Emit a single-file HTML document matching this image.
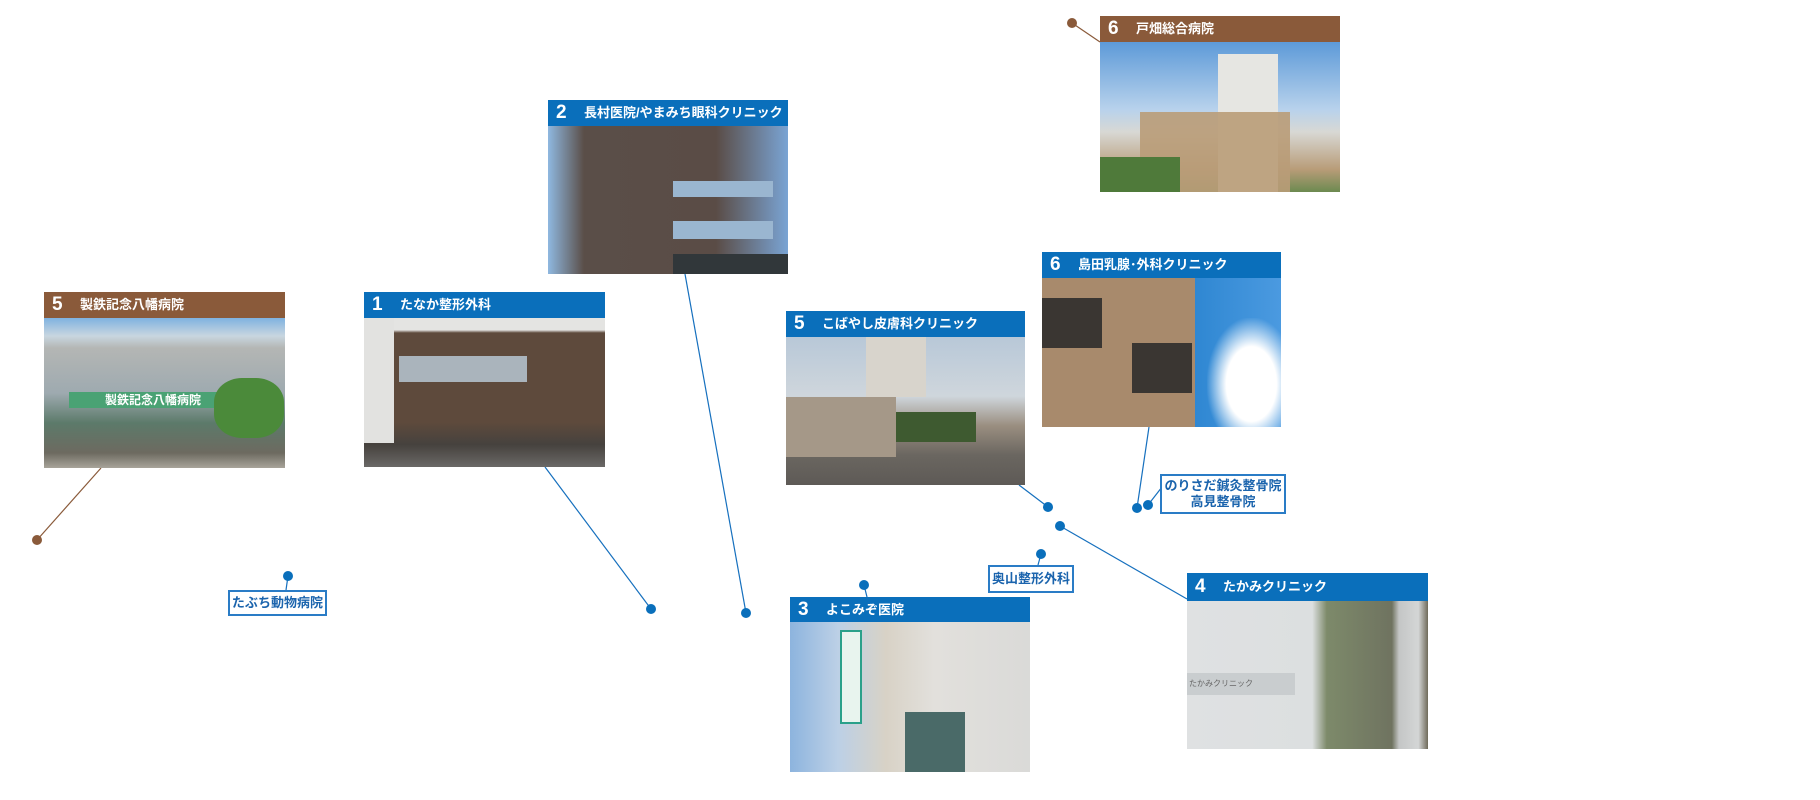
<!DOCTYPE html>
<html><head><meta charset="utf-8"><style>
body{margin:0;width:1820px;height:800px;background:#fff;position:relative;overflow:hidden;font-family:"Liberation Sans","Noto Sans CJK JP",sans-serif}
.card{position:absolute}
.hd{height:26px;color:#fff;font-weight:bold;font-size:13px;line-height:26px;white-space:nowrap;overflow:hidden}
.hd b{font-size:19px;display:inline-block;width:20px;margin-left:8px;margin-right:8px;vertical-align:top}
.blue{background:#0a6fbb}.brown{background:#8a5a3a}
.img{position:absolute;left:0;right:0;bottom:0}
.lbl{position:absolute;border:2px solid #2a7cc6;background:#fff;color:#1b64ad;font-weight:bold;font-size:13px;text-align:center;line-height:16px;box-sizing:border-box}
svg{position:absolute;left:0;top:0}
</style></head><body>
<svg width="1820" height="800">
<g stroke-width="1.2">
<line x1="1072" y1="23" x2="1100" y2="42" stroke="#8a5a3a"/>
<line x1="37" y1="540" x2="101" y2="468" stroke="#8a5a3a"/>
<line x1="685" y1="274" x2="746" y2="613" stroke="#1670be"/>
<line x1="1149" y1="427" x2="1137" y2="508" stroke="#1670be"/>
<line x1="1148" y1="505" x2="1162" y2="487" stroke="#1670be"/>
<line x1="1019" y1="485" x2="1048" y2="507" stroke="#1670be"/>
<line x1="1060" y1="526" x2="1187" y2="599" stroke="#1670be"/>
<line x1="1041" y1="554" x2="1038" y2="565" stroke="#1670be"/>
<line x1="864" y1="585" x2="867" y2="597" stroke="#1670be"/>
<line x1="545" y1="467" x2="651" y2="609" stroke="#1670be"/>
<line x1="288" y1="576" x2="286" y2="590" stroke="#1670be"/>
</g>
<g fill="#8a5a3a"><circle cx="1072" cy="23" r="5"/><circle cx="37" cy="540" r="5"/></g>
<g fill="#0a6fbb">
<circle cx="746" cy="613" r="5"/><circle cx="1137" cy="508" r="5"/><circle cx="1148" cy="505" r="5"/>
<circle cx="1048" cy="507" r="5"/><circle cx="1060" cy="526" r="5"/><circle cx="1041" cy="554" r="5"/>
<circle cx="864" cy="585" r="5"/><circle cx="651" cy="609" r="5"/><circle cx="288" cy="576" r="5"/>
</g>
</svg>

<!-- 戸畑 -->
<div class="card" style="left:1100px;top:16px;width:240px;height:176px">
<div class="hd brown"><b>6</b>戸畑総合病院</div>
<div class="img" style="top:26px;background:linear-gradient(180deg,#5d9ad8 0%,#b8d2ec 45%,#d8d8d4 60%,#b89c78 85%,#6c8a50 100%)">
<div style="position:absolute;left:118px;top:12px;width:60px;height:138px;background:#e6e6e2"></div>
<div style="position:absolute;left:40px;top:70px;width:150px;height:80px;background:#b99c78;opacity:.9"></div>
<div style="position:absolute;left:0;top:115px;width:80px;height:35px;background:#4f7a3a"></div>
</div></div>

<!-- 長村 -->
<div class="card" style="left:548px;top:100px;width:240px;height:174px">
<div class="hd blue"><b>2</b>長村医院/やまみち眼科クリニック</div>
<div class="img" style="top:26px;background:linear-gradient(90deg,#8fb8e0 0%,#5a4e48 15%,#5a4c46 70%,#7aa4d4 100%)">
<div style="position:absolute;left:125px;top:55px;width:100px;height:16px;background:#9ab6d0"></div>
<div style="position:absolute;left:125px;top:95px;width:100px;height:18px;background:#9ab6d0"></div>
<div style="position:absolute;left:125px;top:128px;width:115px;height:20px;background:#31373a"></div>
</div></div>

<!-- 島田 -->
<div class="card" style="left:1042px;top:252px;width:239px;height:175px">
<div class="hd blue"><b>6</b>島田乳腺･外科クリニック</div>
<div class="img" style="top:26px;background:linear-gradient(90deg,#a88a6c 0%,#a88a6c 64%,#2f87d2 64%,#4b9ae0 100%)">
<div style="position:absolute;left:165px;top:40px;width:74px;height:110px;background:radial-gradient(ellipse at 60% 60%,#fff 40%,rgba(255,255,255,0) 72%)"></div>
<div style="position:absolute;left:90px;top:65px;width:60px;height:50px;background:#3a3632"></div>
<div style="position:absolute;left:0;top:20px;width:60px;height:50px;background:#3a3632"></div>
</div></div>

<div class="lbl" style="left:1160px;top:474px;width:126px;height:40px;padding-top:2px">のりさだ鍼灸整骨院<br>高見整骨院</div>

<!-- こばやし -->
<div class="card" style="left:786px;top:311px;width:239px;height:174px">
<div class="hd blue"><b>5</b>こばやし皮膚科クリニック</div>
<div class="img" style="top:26px;background:linear-gradient(180deg,#b8c8d8 0%,#cfd6dc 40%,#9a8e80 60%,#6a6660 80%,#5e5a56 100%)">
<div style="position:absolute;left:0;top:60px;width:110px;height:60px;background:#a59888"></div>
<div style="position:absolute;left:80px;top:0;width:60px;height:60px;background:#d8d4cc"></div>
<div style="position:absolute;left:110px;top:75px;width:80px;height:30px;background:#3e5a30"></div>
</div></div>

<div class="lbl" style="left:988px;top:565px;width:86px;height:28px;line-height:24px">奥山整形外科</div>

<!-- たかみ -->
<div class="card" style="left:1187px;top:573px;width:241px;height:176px">
<div class="hd blue" style="height:28px;line-height:28px"><b>4</b>たかみクリニック</div>
<div class="img" style="top:28px;background:linear-gradient(90deg,#dfe1e2 0%,#dcdfe0 52%,#7d8a6a 58%,#6f7360 85%,#c4c6c6 88%,#d4d6d6 96%,#6f6a5a 100%)">
<div style="position:absolute;left:0;top:72px;width:108px;height:22px;background:#c9cdcf"></div>
<div style="position:absolute;left:2px;top:74px;font-size:8px;color:#666;line-height:18px">たかみクリニック</div>
</div></div>

<!-- 製鉄 -->
<div class="card" style="left:44px;top:292px;width:241px;height:176px">
<div class="hd brown"><b>5</b>製鉄記念八幡病院</div>
<div class="img" style="top:26px;background:linear-gradient(180deg,#7fb2e0 0%,#c8d6e0 12%,#b4b6b4 20%,#9eaab0 50%,#5c7a6a 70%,#6d6a60 90%,#a8a49a 100%)">
<div style="position:absolute;left:25px;top:74px;width:168px;height:16px;background:#4aa274;color:#fff;font-size:12px;font-weight:bold;text-align:center;line-height:16px">製鉄記念八幡病院</div>
<div style="position:absolute;left:170px;top:60px;width:70px;height:60px;background:#4b8a3a;border-radius:40%"></div>
</div></div>

<!-- たなか -->
<div class="card" style="left:364px;top:292px;width:241px;height:175px">
<div class="hd blue"><b>1</b>たなか整形外科</div>
<div class="img" style="top:26px;background:linear-gradient(180deg,#e4e4e2 0%,#e4e4e2 8%,#5e4a3c 10%,#5e4a3c 70%,#46423e 85%,#6a6866 100%)">
<div style="position:absolute;left:0;top:0;width:30px;height:125px;background:#e2e2e0"></div>
<div style="position:absolute;left:35px;top:38px;width:128px;height:26px;background:#aab4bc"></div>
</div></div>

<div class="lbl" style="left:228px;top:590px;width:99px;height:26px;line-height:22px">たぶち動物病院</div>

<!-- よこみぞ -->
<div class="card" style="left:790px;top:597px;width:240px;height:175px">
<div class="hd blue"><b>3</b>よこみぞ医院</div>
<div class="img" style="top:25px;background:linear-gradient(90deg,#8db4de 0%,#bcd0e6 20%,#d8d2c6 40%,#e2e0dc 60%,#dadad8 100%)">
<div style="position:absolute;left:50px;top:8px;width:18px;height:90px;background:#e8f4ee;border:2px solid #2aa08a"></div>
<div style="position:absolute;left:115px;top:90px;width:60px;height:60px;background:#4a6a68"></div>
</div></div>
</body></html>
